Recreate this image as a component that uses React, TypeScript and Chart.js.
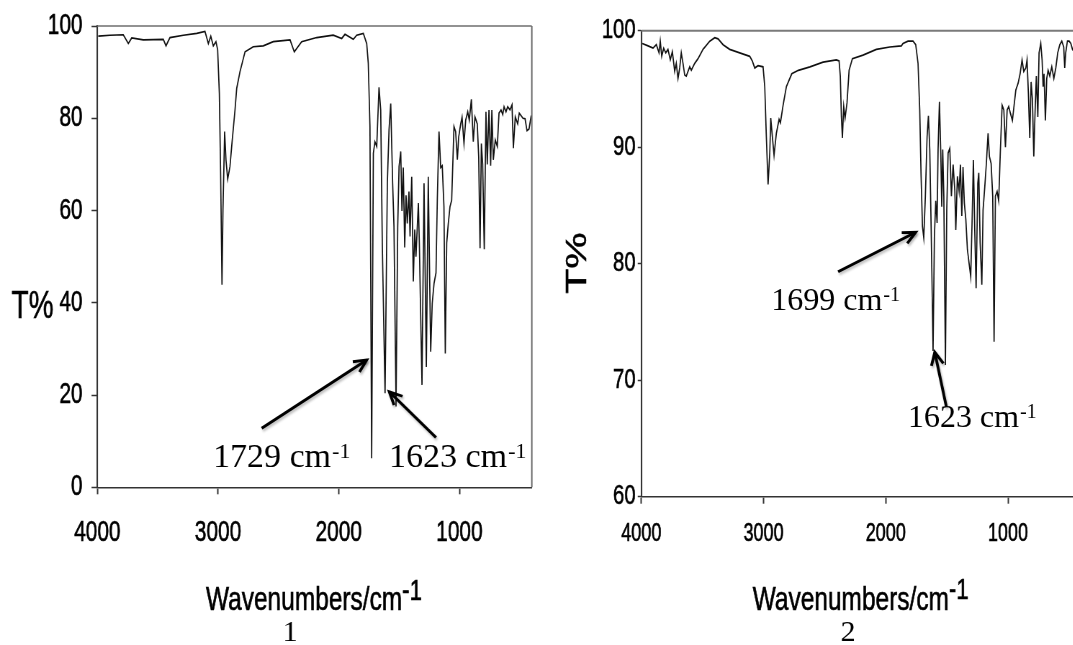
import React, { useEffect, useRef } from "react";
import { Chart, registerables } from "chart.js";

Chart.register(...registerables);

// the original figure is horizontally compressed: the charts are drawn wider and squeezed
const SQUEEZE = 0.72;
const SANS = '"Liberation Sans", Arial, Helvetica, sans-serif';
const SERIF = '"Liberation Serif", "Times New Roman", Times, serif';

// ---- spectrum 1 ----
const WAVENUMBERS_1 = [
  3992, 3895, 3785, 3743, 3715, 3619, 3453, 3431, 3398, 3287, 3176, 3108, 3080, 3060, 3039, 3017,
  3003, 2989, 2978, 2967, 2959, 2945, 2934, 2920, 2901, 2882, 2859, 2845, 2818, 2776, 2708, 2625,
  2542, 2403, 2368, 2307, 2182, 2045, 1975, 1948, 1879, 1851, 1796, 1768, 1755, 1741, 1727, 1713,
  1700, 1685, 1666, 1652, 1639, 1616, 1597, 1583, 1569, 1553, 1542, 1525, 1511, 1500, 1486, 1476,
  1465, 1453, 1442, 1432, 1418, 1409, 1395, 1382, 1370, 1360, 1340, 1332, 1310, 1293, 1274, 1258,
  1238, 1225, 1210, 1194, 1183, 1169, 1155, 1142, 1128, 1117, 1105, 1092, 1078, 1064, 1045, 1031,
  1017, 1006, 989, 978, 962, 948, 931, 918, 901, 885, 871, 852, 840, 829, 818, 807,
  794, 780, 769, 755, 741, 731, 719, 703, 686, 672, 655, 641, 630, 614, 600, 581,
  564, 553, 537, 517, 504, 473, 456, 440, 423, 405,
];
const TRANSMITTANCE_1 = [
  97.8, 98.0, 98.1, 96.2, 97.4, 97.0, 97.1, 95.7, 97.5, 98.0, 98.4, 98.8, 96.2, 97.8, 95.7, 96.6,
  94.9, 85.4, 67.3, 43.9, 60.1, 77.1, 71.0, 66.8, 69.5, 75.3, 81.8, 86.5, 90.1, 94.4, 95.5, 95.7,
  96.6, 97.0, 94.4, 96.6, 97.5, 98.0, 97.3, 98.2, 97.1, 98.0, 98.4, 96.2, 91.9, 78.2, 6.3, 72.4,
  74.9, 73.9, 86.7, 81.8, 52.9, 20.4, 65.9, 77.5, 83.2, 65.9, 56.5, 17.5, 56.5, 69.5, 72.8, 59.9,
  69.3, 52.0, 63.3, 57.2, 64.1, 54.4, 67.3, 44.6, 55.9, 50.0, 61.6, 53.0, 22.2, 65.9, 26.1, 67.3,
  29.4, 39.9, 44.2, 46.5, 62.4, 77.1, 69.3, 69.7, 60.8, 29.0, 53.0, 57.2, 60.8, 62.2, 78.2, 77.1,
  71.0, 75.9, 78.8, 80.2, 74.5, 79.6, 81.4, 79.6, 84.1, 74.9, 80.3, 78.8, 71.6, 51.8, 74.5, 70.0,
  51.6, 81.4, 70.0, 81.8, 69.7, 81.8, 71.0, 75.3, 73.9, 81.1, 81.8, 80.8, 82.5, 81.4, 82.5, 81.8,
  82.9, 73.5, 80.3, 78.8, 81.1, 80.0, 79.9, 77.3, 77.7, 80.6,
];

// ---- spectrum 2 ----
const WAVENUMBERS_2 = [
  3992, 3945, 3904, 3877, 3855, 3845, 3833, 3817, 3800, 3782, 3763, 3746, 3727, 3714, 3700, 3686,
  3673, 3659, 3645, 3632, 3618, 3604, 3591, 3563, 3536, 3495, 3440, 3399, 3372, 3331, 3277, 3195,
  3113, 3092, 3072, 3045, 3004, 2990, 2977, 2963, 2949, 2941, 2928, 2914, 2895, 2873, 2862, 2840,
  2813, 2769, 2715, 2620, 2513, 2404, 2382, 2372, 2363, 2355, 2344, 2333, 2317, 2300, 2273, 2186,
  2077, 1967, 1872, 1859, 1818, 1777, 1755, 1736, 1722, 1711, 1700, 1689, 1676, 1662, 1651, 1640,
  1629, 1624, 1613, 1602, 1591, 1580, 1572, 1561, 1550, 1542, 1534, 1525, 1512, 1501, 1490, 1476,
  1463, 1449, 1435, 1427, 1414, 1400, 1389, 1378, 1368, 1357, 1345, 1332, 1318, 1305, 1294, 1283,
  1272, 1261, 1247, 1239, 1228, 1214, 1204, 1190, 1177, 1163, 1152, 1138, 1125, 1114, 1103, 1089,
  1076, 1062, 1048, 1034, 1021, 1007, 994, 980, 964, 950, 936, 917, 901, 885, 871, 854,
  844, 833, 822, 811, 800, 789, 778, 768, 756, 746, 732, 721, 713, 705, 694, 683,
  672, 658, 642, 625, 609, 593, 576, 560, 544, 536, 528, 514, 500, 486, 473, 467,
];
const TRANSMITTANCE_2 = [
  98.9, 98.7, 98.5, 98.8, 98.1, 99.1, 97.8, 98.5, 98.1, 98.4, 97.5, 98.2, 96.5, 97.2, 95.9, 96.8,
  98.1, 97.2, 96.2, 96.1, 96.5, 96.9, 96.6, 97.2, 97.6, 98.4, 99.1, 99.4, 99.3, 98.8, 98.4, 98.1,
  97.8, 97.4, 96.8, 97.0, 96.9, 95.2, 90.9, 86.8, 89.5, 92.5, 90.9, 89.3, 91.2, 92.4, 92.1, 93.6,
  95.2, 96.3, 96.6, 96.9, 97.3, 97.5, 97.4, 96.1, 92.6, 90.8, 93.5, 92.5, 93.8, 96.6, 97.6, 97.9,
  98.4, 98.6, 98.7, 98.9, 99.1, 99.1, 98.8, 97.2, 93.2, 87.5, 83.2, 82.2, 85.8, 90.9, 92.7, 89.8,
  83.2, 80.0, 72.5, 82.4, 85.4, 83.5, 89.8, 93.9, 89.5, 84.9, 89.8, 85.8, 71.3, 84.6, 89.5, 89.9,
  85.8, 88.5, 86.3, 82.9, 87.5, 86.2, 88.5, 84.1, 88.3, 85.2, 83.8, 81.2, 80.0, 78.9, 83.5, 88.9,
  82.9, 77.9, 86.9, 87.8, 81.8, 78.2, 84.6, 86.6, 88.6, 91.2, 89.2, 88.6, 85.8, 73.3, 85.8, 86.2,
  85.4, 89.8, 93.6, 93.2, 90.0, 93.2, 93.5, 92.9, 92.3, 93.6, 94.9, 95.5, 96.3, 97.5, 96.5, 96.8,
  97.5, 94.6, 90.8, 95.6, 94.1, 89.2, 93.2, 96.1, 92.6, 98.1, 98.9, 97.5, 95.2, 96.3, 92.3, 95.9,
  96.6, 96.1, 96.9, 95.9, 96.8, 98.1, 98.8, 99.1, 98.6, 96.8, 98.1, 99.1, 99.1, 98.9, 98.4, 98.3,
];

// ---- axes / text ----
const X_TICKS = [4000, 3000, 2000, 1000];
const Y_TICKS_1 = [0, 20, 40, 60, 80, 100];
const Y_TICKS_2 = [60, 70, 80, 90, 100];
const X_TITLE_MAIN = "Wavenumbers/cm";
const X_TITLE_SUP = "-1";
const Y_TITLE = "T%";
const PEAK_SUP = "-1";
const X_TITLE_CENTER_WN = 2205;

// annotations in data units [wavenumber, T%]
const ARROWS_1 = [
  { from: [2638, 12.8], to: [1768, 27.6] },
  { from: [1194, 10.8], to: [1581, 20.7] },
];
const PEAK_LABELS_1 = [
  { text: "1729 cm", at: [3041, 4.47] },
  { text: "1623 cm", at: [1583, 4.47] },
];
const ARROWS_2 = [
  { from: [2390, 79.3], to: [1755, 82.7] },
  { from: [1504, 67.7], to: [1599, 72.4] },
];
const PEAK_LABELS_2 = [
  { text: "1699 cm", at: [2937, 76.0] },
  { text: "1623 cm", at: [1819, 66.0] },
];

const PANEL_1 = {
  left: 0, width: 545,
  plotLeft: 97.3, plotRight: 531.8, plotTop: 26, plotBottom: 487.3,
  xMin: 400, xMax: 4000, yMin: 0, yMax: 100, yTicks: Y_TICKS_1,
  wn: WAVENUMBERS_1, t: TRANSMITTANCE_1,
  yTickFont: 29, xTickFont: 29, yTickLen: 8, yTickPad: 12.5, xTickLen: 7, xTickPad: 21,
  frameColor: "#6e6e6e", frameWidth: 1.5, rightBorder: true,
  xTitleSize: 33, xTitleBase: 610,
  yTitle: { rotate: false, cx: 32.5, cy: 318, size: 39 },
  arrows: ARROWS_1, labels: PEAK_LABELS_1, annSize: 34, annSupSize: 22, annSupRaise: 8.5,
  panelLabel: "1", panelLabelWn: 2403,
};
const PANEL_2 = {
  left: 545, width: 528,
  plotLeft: 641.3, plotRight: null, plotTop: 30.7, plotBottom: 496.7,
  xMin: 470, xMax: 4000, yMin: 60, yMax: 100, yTicks: Y_TICKS_2,
  wn: WAVENUMBERS_2, t: TRANSMITTANCE_2,
  yTickFont: 28, xTickFont: 25, yTickLen: 5, yTickPad: 3, xTickLen: 7, xTickPad: 15,
  frameColor: "#7a7a7a", frameWidth: 2, rightBorder: false,
  xTitleSize: 33, xTitleBase: 609.5,
  yTitle: { rotate: true, cx: 575.5, cy: 263, size: 41 },
  arrows: ARROWS_2, labels: PEAK_LABELS_2, annSize: 32, annSupSize: 20, annSupRaise: 9,
  panelLabel: "2", panelLabelWn: 2309,
};

function drawArrow(ctx: CanvasRenderingContext2D, x1: number, y1: number, x2: number, y2: number) {
  const ang = Math.atan2(y2 - y1, x2 - x1);
  const L = 14;
  const spread = 0.45;
  ctx.beginPath();
  ctx.moveTo(x1, y1);
  ctx.lineTo(x2, y2);
  ctx.stroke();
  ctx.beginPath();
  ctx.moveTo(x2 - L * Math.cos(ang - spread), y2 - L * Math.sin(ang - spread));
  ctx.lineTo(x2, y2);
  ctx.lineTo(x2 - L * Math.cos(ang + spread), y2 - L * Math.sin(ang + spread));
  ctx.stroke();
}

function heavyText(ctx: CanvasRenderingContext2D, s: string, x: number, y: number) {
  ctx.fillText(s, x, y);
  ctx.strokeText(s, x, y);
}

function Panel({ cfg }: { cfg: any }) {
  const ref = useRef<HTMLCanvasElement>(null);
  const S = SQUEEZE;
  const W = Math.round(cfg.width / S);
  const H = 645;

  useEffect(() => {
    const canvas = ref.current;
    if (!canvas) return;
    const padRight = cfg.plotRight == null ? 0 : W - (cfg.plotRight - cfg.left) / S;
    const yAxisWidth = (cfg.plotLeft - cfg.left) / S;
    const xAxisHeight = H - cfg.plotBottom;

    const decor = {
      id: "decor",
      afterDraw(chart: any) {
        const { ctx, chartArea: a } = chart;
        const xs = chart.scales.x;
        const ys = chart.scales.y;
        ctx.save();
        // frame
        ctx.strokeStyle = cfg.frameColor;
        ctx.lineWidth = cfg.frameWidth;
        ctx.beginPath();
        ctx.moveTo(a.left, a.top);
        ctx.lineTo(a.right, a.top);
        ctx.stroke();
        if (cfg.rightBorder) {
          ctx.lineWidth = cfg.frameWidth / S;
          ctx.beginPath();
          ctx.moveTo(a.right, a.top);
          ctx.lineTo(a.right, a.bottom);
          ctx.stroke();
        }
        // x title (squeezed like the rest of the figure)
        ctx.fillStyle = "#000";
        ctx.strokeStyle = "#000";
        ctx.lineWidth = 0.6;
        ctx.textAlign = "left";
        ctx.textBaseline = "alphabetic";
        const mainFont = `${cfg.xTitleSize}px ${SANS}`;
        const supFont = `${cfg.xTitleSize - 3}px ${SANS}`;
        ctx.font = mainFont;
        const mw = ctx.measureText(X_TITLE_MAIN).width;
        ctx.font = supFont;
        const sw = ctx.measureText(X_TITLE_SUP).width;
        const stretch = 1.03;
        const cx = xs.getPixelForValue(X_TITLE_CENTER_WN);
        ctx.save();
        ctx.translate(cx - ((mw + sw) * stretch) / 2, cfg.xTitleBase);
        ctx.scale(stretch, 1);
        ctx.font = mainFont;
        heavyText(ctx, X_TITLE_MAIN, 0, 0);
        ctx.font = supFont;
        heavyText(ctx, X_TITLE_SUP, mw, -10.5);
        ctx.restore();
        // y title
        const yt = cfg.yTitle;
        ctx.font = `${yt.size}px ${SANS}`;
        ctx.textAlign = "center";
        if (yt.rotate) {
          ctx.save();
          ctx.translate((yt.cx - cfg.left) / S, yt.cy);
          ctx.rotate(-Math.PI / 2);
          heavyText(ctx, Y_TITLE, 0, 0.358 * yt.size);
          ctx.restore();
        } else {
          heavyText(ctx, Y_TITLE, (yt.cx - cfg.left) / S, yt.cy);
        }
        // serif annotations, drawn unsqueezed
        ctx.scale(1 / S, 1);
        ctx.strokeStyle = "#000";
        ctx.lineWidth = 2.8;
        ctx.lineJoin = "miter";
        ctx.shadowColor = "rgba(0,0,0,0.3)";
        ctx.shadowBlur = 3;
        ctx.shadowOffsetX = 1.5;
        ctx.shadowOffsetY = 2;
        for (const ar of cfg.arrows) {
          drawArrow(
            ctx,
            xs.getPixelForValue(ar.from[0]) * S,
            ys.getPixelForValue(ar.from[1]),
            xs.getPixelForValue(ar.to[0]) * S,
            ys.getPixelForValue(ar.to[1])
          );
        }
        ctx.shadowColor = "transparent";
        ctx.textAlign = "left";
        for (const lab of cfg.labels) {
          const px = xs.getPixelForValue(lab.at[0]) * S;
          const py = ys.getPixelForValue(lab.at[1]);
          ctx.font = `${cfg.annSize}px ${SERIF}`;
          ctx.fillText(lab.text, px, py);
          const w = ctx.measureText(lab.text).width;
          ctx.font = `${cfg.annSupSize}px ${SERIF}`;
          ctx.fillText(PEAK_SUP, px + w + 1, py - cfg.annSupRaise);
        }
        // panel number
        ctx.font = `30px ${SERIF}`;
        ctx.textAlign = "center";
        ctx.fillText(cfg.panelLabel, xs.getPixelForValue(cfg.panelLabelWn) * S, 641);
        ctx.restore();
      },
    };

    const tickFont = (size: number) => ({ family: SANS, size });

    const chart = new Chart(canvas, {
      type: "line",
      data: {
        datasets: [
          {
            data: cfg.wn.map((w: number, i: number) => ({ x: w, y: cfg.t[i] })),
            borderColor: "#111",
            borderWidth: 1.7,
            pointRadius: 0,
            tension: 0,
            fill: false,
          },
        ],
      },
      options: {
        animation: false,
        responsive: false,
        maintainAspectRatio: false,
        events: [],
        layout: { padding: { left: 0, top: cfg.plotTop, right: padRight, bottom: 0 } },
        plugins: { legend: { display: false }, tooltip: { enabled: false } },
        scales: {
          x: {
            type: "linear",
            reverse: true,
            min: cfg.xMin,
            max: cfg.xMax,
            afterBuildTicks: (s: any) => {
              s.ticks = X_TICKS.map((v) => ({ value: v }));
            },
            afterFit: (s: any) => {
              s.height = xAxisHeight;
              s.paddingLeft = 0;
              s.paddingRight = 0;
            },
            grid: {
              display: true,
              drawOnChartArea: false,
              drawTicks: true,
              tickLength: cfg.xTickLen,
              tickWidth: 2,
              tickColor: "#333",
              color: "#333",
            },
            border: { display: true, color: "#333", width: 1.6 },
            ticks: {
              font: tickFont(cfg.xTickFont),
              color: "#000",
              textStrokeColor: "#000",
              textStrokeWidth: 0.6,
              padding: cfg.xTickPad,
              maxRotation: 0,
              minRotation: 0,
              autoSkip: false,
              callback: (v: any) => String(v),
            },
          },
          y: {
            type: "linear",
            min: cfg.yMin,
            max: cfg.yMax,
            afterBuildTicks: (s: any) => {
              s.ticks = cfg.yTicks.map((v: number) => ({ value: v }));
            },
            afterFit: (s: any) => {
              s.width = yAxisWidth;
              s.paddingTop = 0;
              s.paddingBottom = 0;
            },
            grid: {
              display: true,
              drawOnChartArea: false,
              drawTicks: true,
              tickLength: cfg.yTickLen,
              tickWidth: 1.5,
              tickColor: "#333",
              color: "#333",
            },
            border: { display: true, color: "#333", width: 2.1 },
            ticks: {
              font: tickFont(cfg.yTickFont),
              color: "#000",
              textStrokeColor: "#000",
              textStrokeWidth: 0.6,
              padding: cfg.yTickPad,
              autoSkip: false,
              callback: (v: any) => String(v),
            },
          },
        },
      },
      plugins: [decor],
    } as any);
    return () => chart.destroy();
  }, []);

  return (
    <div
      style={{
        position: "absolute",
        left: cfg.left,
        top: 0,
        width: W,
        height: H,
        transform: `scaleX(${S})`,
        transformOrigin: "0 0",
      }}
    >
      <canvas ref={ref} width={W} height={H} style={{ display: "block" }} />
    </div>
  );
}

export default function App() {
  return (
    <div
      style={{
        position: "absolute",
        left: 0,
        top: 0,
        width: 1073,
        height: 645,
        overflow: "hidden",
        background: "#fff",
      }}
    >
      <Panel cfg={PANEL_1} />
      <Panel cfg={PANEL_2} />
    </div>
  );
}
